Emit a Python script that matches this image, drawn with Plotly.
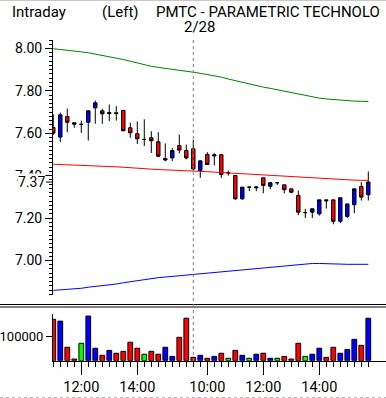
import plotly.graph_objects as go

# ---------------- data ----------------
bar_index = list(range(46))          # 15-minute bars, 2 sessions
tick_bars = [4, 12, 22, 30, 38]
tick_labels = ["12:00", "14:00", "10:00", "12:00", "14:00"]
day_break_bar = 20
day_label = "2/28"

opens = [7.627, 7.582, 7.679, 7.650, 7.642, 7.652, 7.720, 7.706, 7.693, 7.697,
         7.708, 7.626, 7.598, 7.571, 7.579, 7.560, 7.474, 7.484, 7.542, 7.519,
         7.527, 7.425, 7.500, 7.493, 7.499, 7.413, 7.401, 7.291, 7.346, 7.343,
         7.390, 7.350, 7.367, 7.357, 7.338, 7.307, 7.226, 7.228, 7.220, 7.286,
         7.286, 7.185, 7.208, 7.263, 7.349, 7.310]
highs = [7.690, 7.698, 7.716, 7.650, 7.660, 7.708, 7.755, 7.716, 7.736, 7.728,
         7.708, 7.650, 7.656, 7.666, 7.610, 7.605, 7.552, 7.530, 7.594, 7.547,
         7.569, 7.472, 7.511, 7.506, 7.500, 7.424, 7.401, 7.346, 7.346, 7.347,
         7.390, 7.367, 7.367, 7.357, 7.338, 7.330, 7.244, 7.244, 7.286, 7.286,
         7.286, 7.296, 7.267, 7.338, 7.370, 7.420]
lows = [7.592, 7.558, 7.605, 7.626, 7.602, 7.566, 7.645, 7.645, 7.657, 7.660,
        7.610, 7.579, 7.550, 7.540, 7.507, 7.487, 7.468, 7.469, 7.505, 7.477,
        7.425, 7.390, 7.450, 7.448, 7.390, 7.400, 7.286, 7.286, 7.327, 7.327,
        7.317, 7.336, 7.356, 7.317, 7.317, 7.214, 7.200, 7.200, 7.212, 7.245,
        7.171, 7.176, 7.200, 7.223, 7.283, 7.283]
closes = [7.601, 7.687, 7.652, 7.643, 7.642, 7.706, 7.744, 7.692, 7.697, 7.693,
          7.612, 7.602, 7.574, 7.571, 7.565, 7.492, 7.481, 7.519, 7.521, 7.484,
          7.432, 7.470, 7.453, 7.498, 7.406, 7.413, 7.291, 7.346, 7.346, 7.347,
          7.354, 7.367, 7.367, 7.334, 7.322, 7.228, 7.226, 7.244, 7.286, 7.282,
          7.185, 7.296, 7.267, 7.338, 7.299, 7.370]

upper_band = [7.999, 7.996, 7.993, 7.989, 7.984, 7.980, 7.974, 7.968, 7.962, 7.955,
              7.948, 7.940, 7.931, 7.922, 7.916, 7.911, 7.907, 7.903, 7.899, 7.893,
              7.888, 7.883, 7.878, 7.872, 7.865, 7.856, 7.848, 7.840, 7.833, 7.825,
              7.818, 7.812, 7.805, 7.800, 7.794, 7.786, 7.778, 7.770, 7.766, 7.762,
              7.759, 7.756, 7.753, 7.752, 7.751, 7.750]
middle_band = [7.454, 7.453, 7.452, 7.451, 7.450, 7.449, 7.448, 7.446, 7.444, 7.442,
               7.440, 7.437, 7.435, 7.433, 7.431, 7.429, 7.428, 7.427, 7.426, 7.424,
               7.423, 7.421, 7.419, 7.417, 7.415, 7.413, 7.411, 7.410, 7.408, 7.406,
               7.405, 7.403, 7.401, 7.398, 7.396, 7.394, 7.391, 7.389, 7.386, 7.384,
               7.382, 7.381, 7.380, 7.379, 7.378, 7.378]
lower_band = [6.859, 6.861, 6.862, 6.865, 6.869, 6.874, 6.877, 6.880, 6.883, 6.889,
              6.895, 6.900, 6.906, 6.912, 6.917, 6.919, 6.922, 6.925, 6.929, 6.933,
              6.936, 6.938, 6.941, 6.943, 6.946, 6.950, 6.953, 6.957, 6.961, 6.964,
              6.967, 6.970, 6.973, 6.975, 6.978, 6.981, 6.984, 6.986, 6.986, 6.984,
              6.983, 6.983, 6.982, 6.982, 6.982, 6.982]

volume = [172500, 165000, 56000, 7000, 72500, 186000, 52000, 22500, 43000, 31000,
          39000, 77000, 52000, 27000, 39000, 27000, 56000, 18000, 97500, 177000,
          14000, 22500, 10000, 18000, 31000, 10000, 43000, 22500, 10000, 27000,
          31000, 10000, 10000, 18000, 7000, 72500, 18000, 27000, 52000, 14000,
          56000, 31000, 47000, 89000, 64000, 177000]

price_ticks = [7.00, 7.20, 7.40, 7.60, 7.80, 8.00]
last_price = 7.37
vol_ticks = [100000]

# ---------------- figure ----------------
W, H = 386, 398
FONT = "Roboto, Liberation Sans, sans-serif"


def py(px):
    return 1 - px / H


def pxr(px):
    return px / W


fig = go.Figure()

for vals, col in ((upper_band, "#008000"), (middle_band, "#ff0000"), (lower_band, "#0000ff")):
    fig.add_trace(go.Scatter(x=bar_index, y=vals, mode="lines", xaxis="x", yaxis="y",
                             line=dict(color=col, width=1), hoverinfo="skip"))

fig.add_trace(go.Candlestick(
    x=bar_index, open=opens, high=highs, low=lows, close=closes,
    xaxis="x", yaxis="y", whiskerwidth=0,
    increasing=dict(fillcolor="#0000ff", line=dict(color="black", width=1)),
    decreasing=dict(fillcolor="#ff0000", line=dict(color="black", width=1)),
    hoverinfo="skip"))

vol_colors = ["#00ff00" if c == o else ("#0000ff" if c > o else "#ff0000")
              for o, c in zip(opens, closes)]
fig.add_trace(go.Bar(x=bar_index, y=volume, xaxis="x", yaxis="y2", width=0.68,
                     marker=dict(color=vol_colors, line=dict(color="black", width=1)),
                     hoverinfo="skip"))

px_per_unit = 212.0
y_top = 8.0 + (48.5 - 40) / px_per_unit
y_bot = 8.0 - (295 - 48.5) / px_per_unit
minor_price = [round(6.84 + 0.02 * k, 2) for k in range(61)]
minor_x = [i for i in bar_index if i not in tick_bars]

fig.update_layout(
    template="none",
    width=W, height=H, margin=dict(l=0, r=0, t=0, b=0, autoexpand=False),
    paper_bgcolor="white", plot_bgcolor="white", showlegend=False,
    font=dict(family=FONT, size=14, color="black"),
    xaxis=dict(domain=[pxr(53), 1], range=[-0.04, (386 - 53.3) / 7], anchor="y2",
               automargin=False,
               tickmode="array", tickvals=tick_bars, ticktext=tick_labels,
               ticks="outside", ticklen=13, tickcolor="black", tickwidth=1,
               tickfont=dict(size=14.5), showline=True, linecolor="black", linewidth=1,
               showgrid=False, zeroline=False, rangeslider=dict(visible=False),
               minor=dict(tickvals=minor_x, ticks="outside", ticklen=5,
                          tickcolor="black", showgrid=False)),
    yaxis=dict(domain=[py(295), py(40)], range=[y_bot, y_top], anchor="x",
               automargin=False,
               tickmode="array", tickvals=price_ticks,
               ticktext=["%.2f" % v for v in price_ticks],
               ticks="outside", ticklen=7, tickcolor="black", tickfont=dict(size=14),
               showline=True, linecolor="black", linewidth=1, showgrid=False,
               zeroline=False,
               minor=dict(tickvals=minor_price, ticks="outside", ticklen=3,
                          tickcolor="black", showgrid=False)),
    yaxis2=dict(domain=[py(360.7), py(314)], range=[0, 194600], anchor="x",
                automargin=False,
                tickmode="array", tickvals=vol_ticks, ticktext=[str(v) for v in vol_ticks],
                ticks="outside", ticklen=6, tickcolor="black", tickfont=dict(size=13),
                showline=True, linecolor="black", linewidth=1, showgrid=False,
                zeroline=False),
)

shapes = [
    dict(type="line", xref="paper", yref="paper", x0=0, x1=1, y0=py(0.5), y1=py(0.5),
         line=dict(color="#c8c8c8", width=1)),
    dict(type="line", xref="paper", yref="paper", x0=0, x1=1, y0=py(304.5), y1=py(304.5),
         line=dict(color="black", width=1)),
    dict(type="line", xref="paper", yref="paper", x0=0, x1=1, y0=py(307), y1=py(307),
         line=dict(color="black", width=1)),
    dict(type="line", xref="paper", yref="paper", x0=0, x1=1, y0=py(397.5), y1=py(397.5),
         line=dict(color="#b8b8b8", width=1, dash="dot")),
    dict(type="line", xref="x", yref="paper", x0=day_break_bar, x1=day_break_bar,
         y0=py(361), y1=py(40), line=dict(color="#808080", width=1, dash="3px,3px")),
    dict(type="line", xref="paper", yref="y", x0=pxr(46), x1=pxr(53),
         y0=last_price, y1=last_price, line=dict(color="black", width=1)),
]
fig.update_layout(shapes=shapes)

ann = [
    dict(text="Intraday", x=pxr(10), y=py(12.5), xanchor="left"),
    dict(text="(Left)", x=pxr(100), y=py(12.5), xanchor="left"),
    dict(text="PMTC - PARAMETRIC TECHNOLO", x=pxr(154), y=py(12.5), xanchor="left"),
    dict(text=day_label, x=pxr(199.5), y=py(27), xanchor="center"),
]
annotations = []
for a in ann:
    a.update(xref="paper", yref="paper", yanchor="middle", showarrow=False,
             font=dict(family=FONT, size=15, color="black"))
    annotations.append(a)
annotations.append(dict(text="%.2f" % last_price, xref="paper", yref="y", x=pxr(45.5),
                        y=last_price, xanchor="right", yanchor="middle", showarrow=False,
                        bgcolor="white", borderpad=0,
                        font=dict(family=FONT, size=14, color="black")))
fig.update_layout(annotations=annotations)

fig.write_html("out.html", config={"displayModeBar": False},
               post_script="document.body.style.margin='0';")
